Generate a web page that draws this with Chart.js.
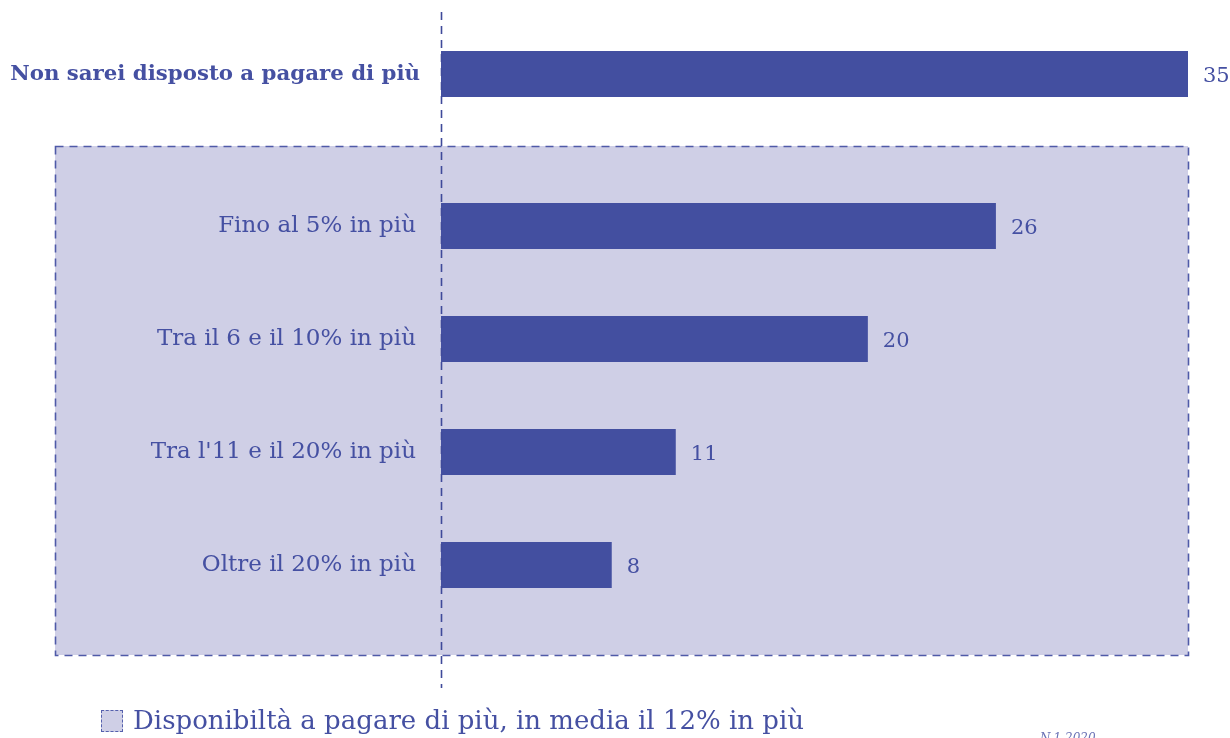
<!DOCTYPE html>
<html>
<head>
<meta charset="utf-8">
<script src="https://cdn.jsdelivr.net/npm/chart.js@4"></script>
<style>
  html, body { margin: 0; padding: 0; background: #fff; overflow: hidden; }
  .wrap { position: relative; width: 1230px; height: 738px; }
  .wrap canvas { position: absolute; left: 0; top: 0; }
  .legend { position: absolute; left: 101px; top: 705px; font-family: "DejaVu Serif", serif; font-size: 26px; color: #4550a2; white-space: nowrap; }
  .legend .box { display: inline-block; width: 20px; height: 20px; background: #cfcfe6; border: 1px dashed #5560ad; vertical-align: -3px; margin-right: 10px; }
  .note { position: absolute; left: 1040px; top: 731px; font-family: "DejaVu Serif", serif; font-style: italic; font-size: 12px; color: #6a72b5; }
</style>
</head>
<body>
<div class="wrap">
  <canvas id="top-chart" width="1230" height="738"></canvas>
  <canvas id="main-chart" width="1230" height="738"></canvas>
  <div class="legend"><span class="box"></span>Disponibiltà a pagare di più, in media il 12% in più</div>
  <div class="note">N.1 2020</div>
</div>
<script>
var topLabels = ["Non sarei disposto a pagare di più"];
var topValues = [35];
var mainLabels = ["Fino al 5% in più", "Tra il 6 e il 10% in più", "Tra l'11 e il 20% in più", "Oltre il 20% in più"];
var mainValues = [26, 20, 11, 8];
var xMax = 35;

var barColor = "#434fa0";
var textColor = "#4550a2";
var fontFamily = "'DejaVu Serif', serif";

// value labels next to the bars
var valueLabels = {
  id: 'valueLabels',
  afterDatasetsDraw: function(chart) {
    var ctx = chart.ctx;
    var meta = chart.getDatasetMeta(0);
    ctx.save();
    ctx.fillStyle = textColor;
    ctx.font = "21px " + fontFamily;
    ctx.textBaseline = 'middle';
    meta.data.forEach(function(bar, i) {
      ctx.fillText(chart.data.datasets[0].data[i], bar.x + 15, bar.y + 3);
    });
    ctx.restore();
  }
};

// shaded dashed box behind the detail bars + dashed zero line
var boxAndLine = {
  id: 'boxAndLine',
  beforeDraw: function(chart) {
    var ctx = chart.ctx;
    var x = chart.scales.x, y = chart.scales.y;
    var left = 55, right = x.getPixelForValue(xMax);
    var top = y.getPixelForValue(0) - 80, bottom = y.getPixelForValue(mainLabels.length - 1) + 90;
    ctx.save();
    ctx.fillStyle = "#cfcfe6";
    ctx.fillRect(left, top, right - left, bottom - top);
    ctx.strokeStyle = "#4f5aa8";
    ctx.lineWidth = 1.6;
    ctx.setLineDash([8, 6]);
    ctx.strokeRect(left + 0.5, top + 0.5, right - left, bottom - top);
    ctx.restore();
  },
  afterDraw: function(chart) {
    var ctx = chart.ctx;
    var zx = Math.round(chart.scales.x.getPixelForValue(0)) + 0.5;
    ctx.save();
    ctx.strokeStyle = "#3f4a9a";
    ctx.lineWidth = 1.6;
    ctx.setLineDash([8, 6]);
    ctx.beginPath();
    ctx.moveTo(zx, 12);
    ctx.lineTo(zx, 688);
    ctx.stroke();
    ctx.restore();
  }
};

function makeOptions(padTop, padBottom, labelFont, labelPad) {
  return {
    indexAxis: 'y',
    responsive: false,
    animation: false,
    layout: { padding: { top: padTop, bottom: padBottom, left: 0, right: 42 } },
    plugins: { legend: { display: false }, tooltip: { enabled: false } },
    scales: {
      x: { display: false, min: 0, max: xMax },
      y: {
        grid: { display: false, drawTicks: false },
        border: { display: false },
        ticks: { color: textColor, font: labelFont, padding: labelPad },
        afterFit: function(s) { s.width = 441; }
      }
    }
  };
}

new Chart(document.getElementById("top-chart"), {
  type: 'bar',
  data: {
    labels: topLabels,
    datasets: [{ data: topValues, backgroundColor: barColor, barPercentage: 1, categoryPercentage: 1 }]
  },
  options: makeOptions(51, 738 - 97, { family: fontFamily, size: 21.3, weight: 'bold' }, 21),
  plugins: [valueLabels]
});

new Chart(document.getElementById("main-chart"), {
  type: 'bar',
  data: {
    labels: mainLabels,
    datasets: [{ data: mainValues, backgroundColor: barColor, barPercentage: 46 / 113, categoryPercentage: 1 }]
  },
  options: makeOptions(169.5, 738 - 621.5, { family: fontFamily, size: 23 }, 25),
  plugins: [boxAndLine, valueLabels]
});
</script>
</body>
</html>
